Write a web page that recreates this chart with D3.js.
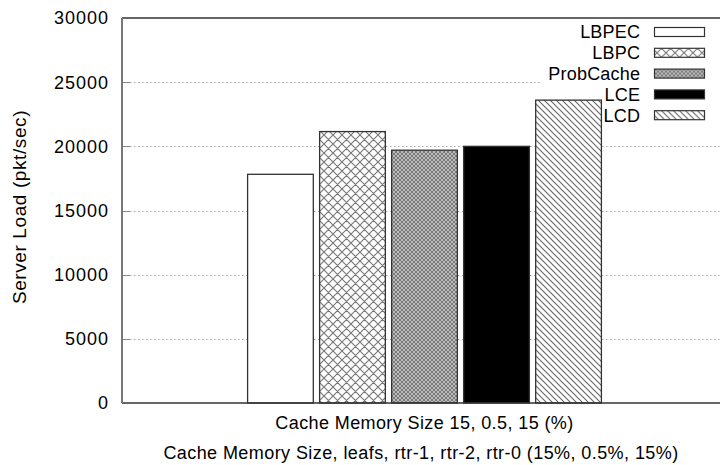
<!DOCTYPE html>
<html><head><meta charset="utf-8">
<script src="https://cdn.jsdelivr.net/npm/d3@7"></script>
<style>body{margin:0;background:#fff}svg{display:block}text{font-family:"Liberation Sans",Arial,Helvetica,sans-serif;fill:#000}</style>
</head><body><svg id="c" width="720" height="465"></svg>
<script>
const categories = ["Cache Memory Size 15, 0.5, 15 (%)"];
const seriesNames = ["LBPEC", "LBPC", "ProbCache", "LCE", "LCD"];
const seriesValues = [17820, 21150, 19700, 20000, 23600];
const yTicks = [0, 5000, 10000, 15000, 20000, 25000, 30000];
const yLabel = "Server Load (pkt/sec)";
const xLabel = "Cache Memory Size, leafs, rtr-1, rtr-2, rtr-0 (15%, 0.5%, 15%)";

const svg = d3.select("#c");
const m = {l:122, r:727, t:18, b:403};
const fs = 18;

const defs = svg.append("defs");
const p1 = defs.append("pattern").attr("id","p1").attr("patternUnits","userSpaceOnUse").attr("width",9).attr("height",9);
p1.append("rect").attr("width",9).attr("height",9).attr("fill","#fff");
p1.append("path").attr("d","M0,0L9,9M9,0L0,9M-1,8L1,10M8,-1L10,1").attr("stroke","#777").attr("stroke-width",1.1);
const p2 = defs.append("pattern").attr("id","p2").attr("patternUnits","userSpaceOnUse").attr("width",4).attr("height",4);
p2.append("rect").attr("width",4).attr("height",4).attr("fill","#bdbdbd");
p2.append("path").attr("d","M0,0L4,4M4,0L0,4").attr("stroke","#333").attr("stroke-width",0.5);
const p3 = defs.append("pattern").attr("id","p3").attr("patternUnits","userSpaceOnUse").attr("width",6).attr("height",6);
p3.append("rect").attr("width",6).attr("height",6).attr("fill","#fff");
p3.append("path").attr("d","M0,0L6,6M-3,3L3,9M3,-3L9,3").attr("stroke","#666").attr("stroke-width",1.1);
const fills = ["#fff","url(#p1)","url(#p2)","#000","url(#p3)"];

const y = d3.scaleLinear().domain([0,30000]).range([m.b,m.t]);
const x0 = d3.scaleBand().domain(categories).range([m.l,m.r]).paddingInner(0).paddingOuter(0.34);
const x1 = d3.scaleBand().domain(seriesNames).range([x0(categories[0]), x0(categories[0])+x0.bandwidth()]).paddingInner(0.0875).paddingOuter(0.04375);

const inner = yTicks.filter(d=>d>0&&d<30000);
svg.append("g").selectAll("line").data(inner).join("line")
  .attr("x1",m.l).attr("x2",m.r).attr("y1",d=>Math.round(y(d))+0.5).attr("y2",d=>Math.round(y(d))+0.5)
  .attr("stroke","#aaa").attr("stroke-dasharray","1.5,2.5");
svg.append("g").selectAll("line").data(inner).join("line")
  .attr("x1",m.l).attr("x2",m.l+8).attr("y1",d=>Math.round(y(d))+0.5).attr("y2",d=>Math.round(y(d))+0.5)
  .attr("stroke","#888");
svg.append("rect").attr("x",540).attr("y",22).attr("width",180).attr("height",104).attr("fill","#fff");

svg.append("g").selectAll("rect").data(seriesNames).join("rect")
  .attr("x",d=>x1(d)).attr("width",x1.bandwidth())
  .attr("y",(d,i)=>y(seriesValues[i])).attr("height",(d,i)=>m.b-y(seriesValues[i]))
  .attr("fill",(d,i)=>fills[i]).attr("stroke","#333").attr("stroke-width",1.3);

svg.append("line").attr("x1",m.l).attr("x2",m.r).attr("y1",m.t).attr("y2",m.t).attr("stroke","#333").attr("stroke-width",1.5);
svg.append("line").attr("x1",m.l).attr("x2",m.r).attr("y1",m.b).attr("y2",m.b).attr("stroke","#333").attr("stroke-width",1.5);
svg.append("line").attr("x1",m.l).attr("x2",m.l).attr("y1",m.t).attr("y2",m.b).attr("stroke","#777").attr("stroke-width",2);

svg.append("g").selectAll("text").data(yTicks).join("text")
  .attr("x",109).attr("y",d=>y(d)).attr("dy","0.36em").attr("text-anchor","end")
  .attr("font-size",fs).attr("letter-spacing",1).text(d=>d);
svg.append("text").attr("transform","translate(26,207) rotate(-90)").attr("text-anchor","middle")
  .attr("font-size",19).attr("letter-spacing",0.6).text(yLabel);
svg.append("text").attr("x",x0(categories[0])+x0.bandwidth()/2).attr("y",429).attr("text-anchor","middle")
  .attr("font-size",fs).attr("letter-spacing",0.4).text(categories[0]);
svg.append("text").attr("x",421).attr("y",459).attr("text-anchor","middle")
  .attr("font-size",fs).attr("letter-spacing",0.42).text(xLabel);

const lg = svg.append("g").selectAll("g").data(seriesNames).join("g")
  .attr("transform",(d,i)=>`translate(0,${32+i*20.8})`);
lg.append("text").attr("x",640.2).attr("dy","0.36em").attr("text-anchor","end").attr("font-size",fs).attr("letter-spacing",0.2).text(d=>d);
lg.append("rect").attr("x",654.5).attr("y",-4.5).attr("width",50).attr("height",9)
  .attr("fill",(d,i)=>fills[i]).attr("stroke","#333").attr("stroke-width",1.2);
</script></body></html>
